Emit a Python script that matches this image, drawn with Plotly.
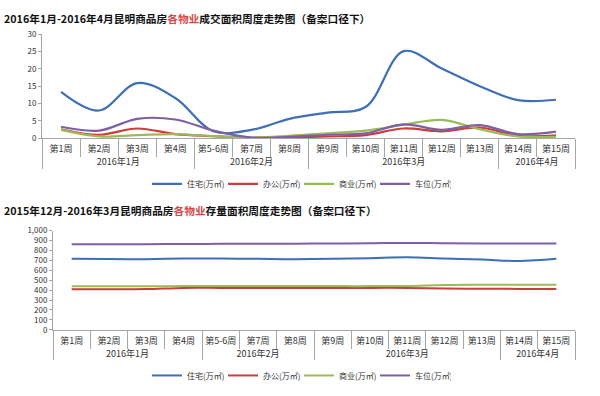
import plotly.graph_objects as go

weeks = ["第1周", "第2周", "第3周", "第4周", "第5-6周", "第7周", "第8周",
         "第9周", "第10周", "第11周", "第12周", "第13周", "第14周", "第15周"]
months = ["2016年1月"] * 4 + ["2016年2月"] * 3 + ["2016年3月"] * 5 + ["2016年4月"] * 2

series_names = ["住宅(万㎡)", "办公(万㎡)", "商业(万㎡)", "车位(万㎡)"]
colors = ["#3F6FB6", "#C8403D", "#9BBB59", "#7E5FA6"]

# top chart: transaction area (万㎡)
deal_res = [13.4, 8.0, 15.9, 11.6, 2.0, 2.4, 5.6, 7.4, 9.0, 25.1, 20.1, 15.0, 11.0, 11.1]
deal_off = [2.6, 1.0, 2.8, 1.2, 0.6, 0.1, 0.2, 0.5, 0.9, 2.8, 2.0, 3.1, 0.7, 0.8]
deal_com = [2.4, 0.5, 0.9, 1.2, 0.6, 0.2, 0.7, 1.4, 2.2, 3.9, 5.3, 2.6, 0.5, 0.4]
deal_park = [3.3, 2.2, 5.6, 5.4, 2.2, 0.2, 0.4, 1.0, 1.4, 4.0, 2.4, 3.8, 1.2, 1.9]

# bottom chart: stock area (万㎡)
stock_res = [716, 713, 712, 718, 718, 715, 712, 716, 722, 730, 718, 708, 694, 716]
stock_off = [408, 408, 410, 422, 422, 422, 422, 422, 422, 422, 416, 414, 412, 412]
stock_com = [438, 438, 438, 440, 440, 440, 440, 440, 440, 442, 452, 454, 454, 454]
stock_park = [863, 862, 862, 865, 866, 868, 868, 870, 872, 876, 872, 870, 870, 870]

title1 = ("<b>2016年1月-2016年4月昆明商品房<span style='color:#D24A4A'>各物业</span>"
          "成交面积周度走势图（备案口径下）</b>")
title2 = ("<b>2015年12月-2016年3月昆明商品房<span style='color:#D24A4A'>各物业</span>"
          "存量面积周度走势图（备案口径下）</b>")

W, H = 600, 396
FONT = "Noto Sans CJK SC"

fig = go.Figure()
xcat = [months, weeks]
for name, col, vals in zip(series_names, colors, [deal_res, deal_off, deal_com, deal_park]):
    fig.add_trace(go.Scatter(x=xcat, y=vals, name=name, mode="lines",
                             line=dict(color=col, width=2.2, shape="spline", smoothing=1),
                             xaxis="x", yaxis="y", legend="legend"))
for name, col, vals in zip(series_names, colors, [stock_res, stock_off, stock_com, stock_park]):
    fig.add_trace(go.Scatter(x=xcat, y=vals, name=name, mode="lines",
                             line=dict(color=col, width=2, shape="spline", smoothing=1),
                             xaxis="x2", yaxis="y2", legend="legend2"))

def px_x(p):
    return p / W

def px_y(p):
    return 1 - p / H

axis_col = "#A6A6A6"
tickfont = dict(family=FONT, size=8, color="#333333")
xtickfont = dict(family=FONT, size=9, color="#333333")
ncat = len(weeks)

xcommon = dict(type="multicategory", showline=True, linecolor=axis_col, linewidth=1,
               ticks="outside", ticklen=18, tickcolor=axis_col, tickson="boundaries",
               showdividers=True, dividercolor=axis_col, dividerwidth=1,
               range=[-0.5, ncat - 0.5], tickangle=0, ticklabelstandoff=2,
               tickfont=xtickfont, showgrid=False, zeroline=False, fixedrange=True)
ycommon = dict(showline=True, linecolor=axis_col, linewidth=1, ticks="outside",
               ticklen=3, tickcolor=axis_col, showgrid=False, zeroline=False,
               tickfont=tickfont, fixedrange=True)

legend_common = dict(orientation="h", xanchor="left", yanchor="middle",
                     font=dict(family=FONT, size=8, color="#333333"), itemwidth=30,
                     entrywidth=31, bgcolor="rgba(0,0,0,0)")

fig.update_layout(
    width=W, height=H,
    margin=dict(l=0, r=0, t=0, b=0),
    paper_bgcolor="white", plot_bgcolor="white",
    font=dict(family=FONT),
    xaxis=dict(domain=[px_x(42), px_x(575)], anchor="y", **xcommon),
    yaxis=dict(domain=[px_y(136), px_y(29)], anchor="x", range=[0, 30], dtick=5, **ycommon),
    xaxis2=dict(domain=[px_x(53), px_x(575)], anchor="y2", **xcommon),
    yaxis2=dict(domain=[px_y(333), px_y(231)], anchor="x2", range=[0, 1000], dtick=100,
                tickformat=",", **ycommon),
    legend=dict(x=px_x(147), y=px_y(183), **legend_common),
    legend2=dict(x=px_x(147), y=px_y(380), **legend_common),
    annotations=[
        dict(text=title1, x=px_x(2), y=px_y(13), xref="paper", yref="paper",
             xanchor="left", yanchor="middle", showarrow=False,
             font=dict(family=FONT, size=10.7, color="#111111")),
        dict(text=title2, x=px_x(2), y=px_y(210), xref="paper", yref="paper",
             xanchor="left", yanchor="middle", showarrow=False,
             font=dict(family=FONT, size=10.7, color="#111111")),
    ],
)

fig.write_html("out.html", config={"displayModeBar": False},
               post_script="document.body.style.margin='0';document.body.style.padding='0';")
